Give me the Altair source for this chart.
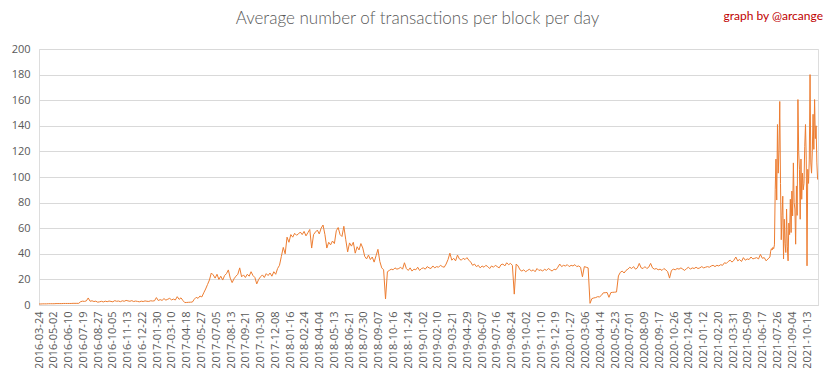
import altair as alt
import pandas as pd

# ---------------- data ----------------
MAIN_START = "2016-03-24"   # one value every 5 days
MAIN_STEP_DAYS = 5
main_values = [
    0.8, 0.8, 0.9, 0.9, 0.9, 1.0, 1.0, 1.0, 1.0, 1.1, 1.1, 1.1, 1.1, 1.2, 1.2, 1.2, 1.2, 1.2, 1.3, 1.3, 1.3, 1.3,
    2.6, 3.0, 2.8, 3.2, 5.5, 2.9, 3.3, 2.7, 3.0, 2.2, 2.5, 2.9, 2.4, 3.0, 2.6, 3.1, 2.8, 2.5, 3.4, 2.9, 3.1, 2.6,
    3.3, 2.9, 3.6, 3.2, 2.9, 3.4, 2.7, 3.1, 2.8, 2.5, 3.0, 2.7, 3.2, 2.9, 2.8, 3.3, 3.1,
    3.3, 5.8, 3.5, 4.2, 3.6, 5.0, 3.8, 4.5, 5.2, 4.0, 4.6, 3.9, 6.5, 4.4, 5.6, 3.5,
    1.9, 2.0, 2.1, 2.2, 2.3,
    4.5, 6.0, 5.2, 7.0, 6.3, 9.5, 12.5, 16.0, 19.5, 25.0,
    23.5, 21.0, 24.0, 20.0, 22.5, 19.5, 23.0, 24.5, 27.4, 21.0, 17.5, 20.5, 22.5, 24.0, 29.0, 22.0, 23.5, 21.5,
    24.0, 22.5, 26.0, 23.0, 21.5, 16.5, 20.0, 22.0, 23.5, 21.5, 24.5, 23.0, 25.0, 22.5, 26.0, 24.0, 28.5, 31.0,
    38.0, 45.0, 40.0, 53.0, 49.0, 55.0, 53.0, 56.0, 54.5, 55.5, 57.0, 55.0, 57.5, 54.0, 56.5, 59.0, 44.5, 55.0,
    57.0, 58.5, 55.5, 60.0, 62.5, 55.0, 44.5, 49.0, 47.0, 50.0, 48.0, 58.0, 60.5, 55.0, 53.5, 61.5, 51.0, 41.5,
    48.5, 46.0, 49.0, 40.5, 45.5, 43.0, 48.0, 44.5, 38.0, 36.0, 39.0, 35.5, 37.5, 33.5, 38.5, 43.5, 34.0, 29.0,
    27.5, 4.7, 26.0,
    27.0, 28.0, 27.5, 29.0, 28.0, 28.5, 29.5, 28.0, 33.0, 28.5, 27.0, 29.0, 26.5, 28.0, 27.5, 29.5, 27.0, 28.5,
    29.0, 28.0, 30.0, 29.0, 28.5, 30.5, 29.0, 30.0, 29.5, 31.0, 30.0, 29.5, 32.0, 35.5,
    40.5, 35.0, 36.5, 34.5, 39.0, 36.0, 35.0, 36.5, 35.5, 37.0, 35.0, 33.5, 31.0, 32.0,
    30.0, 31.0, 29.0, 30.5, 29.5, 31.0, 30.0, 28.5, 30.5, 29.5, 31.0, 30.0, 29.0, 31.5,
    32.0, 30.5, 33.0, 31.5, 32.5, 31.0, 8.5, 32.0, 30.5, 27.5,
    26.5, 27.5, 26.0, 27.0, 28.0, 26.5, 27.5, 26.0, 28.5, 27.0, 27.5, 26.5, 28.0, 27.0, 28.5, 27.5, 26.5, 28.0,
    27.5, 29.5,
    32.0, 30.0, 31.0, 30.5, 31.5, 30.0, 31.0, 30.5, 31.5, 30.0, 30.5, 29.5, 22.0, 30.0, 29.5, 29.0,
    1.3, 5.0, 5.5, 5.8, 6.5, 6.3, 7.5, 9.5, 9.6, 9.8, 6.0, 9.7, 9.9, 10.0, 10.2, 22.7, 25.5, 26.5, 25.0, 27.0,
    28.0, 29.5, 28.5, 30.0, 28.0, 29.0, 32.5, 29.0, 28.5, 30.0, 28.5, 29.5, 32.5, 29.0, 28.0,
    28.5, 27.5, 28.0, 27.0, 28.5, 27.5, 26.0, 21.0, 27.0,
    28.0, 27.5, 28.5, 28.0, 29.0, 28.0, 27.0, 28.5, 29.5, 28.0, 29.0, 28.5, 29.5, 28.5, 29.0, 30.0, 29.0, 29.5,
    30.0, 29.5, 30.5, 31.0, 30.0, 31.0, 30.5, 31.5, 31.0, 33.0,
    32.5, 34.0, 35.0, 33.5, 35.0, 37.5, 34.5, 35.5, 34.0, 37.0, 35.0, 36.0, 35.5, 37.5, 36.0, 36.5, 37.0, 36.0,
    39.5, 36.5, 37.0, 34.5, 36.0, 37.5,
]

END_START = "2021-07-08"    # one value every 2 days
END_STEP_DAYS = 2
end_values = [
    42, 44, 43, 45, 44, 47, 90, 114, 82, 141, 103, 121, 159, 95, 51, 70, 85, 36, 67, 48, 41, 75, 46, 34.5, 64,
    55, 82.6, 56.6, 89, 69.6, 111, 80, 75, 47.5, 93, 70, 160.5, 120, 106, 67, 114, 82.6, 103, 90, 95, 124, 141,
    114, 30.6, 106, 95, 114, 180, 111, 103, 120, 149, 121.6, 160.5, 130, 140, 111, 98,
]

TICK_LABELS = [
    "2016-03-24", "2016-05-02", "2016-06-10", "2016-07-19", "2016-08-27", "2016-10-05", "2016-11-13",
    "2016-12-22", "2017-01-30", "2017-03-10", "2017-04-18", "2017-05-27", "2017-07-05", "2017-08-13",
    "2017-09-21", "2017-10-30", "2017-12-08", "2018-01-16", "2018-02-24", "2018-04-04", "2018-05-13",
    "2018-06-21", "2018-07-30", "2018-09-07", "2018-10-16", "2018-11-24", "2019-01-02", "2019-02-10",
    "2019-03-21", "2019-04-29", "2019-06-07", "2019-07-16", "2019-08-24", "2019-10-02", "2019-11-10",
    "2019-12-19", "2020-01-27", "2020-03-06", "2020-04-14", "2020-05-23", "2020-07-01", "2020-08-09",
    "2020-09-17", "2020-10-26", "2020-12-04", "2021-01-12", "2021-02-20", "2021-03-31", "2021-05-09",
    "2021-06-17", "2021-07-26", "2021-09-04", "2021-10-13",
]
DOMAIN_START = "2016-03-24"
DOMAIN_END = "2021-11-10"
Y_TICKS = [0, 20, 40, 60, 80, 100, 120, 140, 160, 180, 200]

TITLE = "Average number of transactions per block per day"
CREDIT = "graph by @arcange"

# ---------------- build table ----------------
dates_main = pd.date_range(MAIN_START, periods=len(main_values), freq=f"{MAIN_STEP_DAYS}D")
dates_end = pd.date_range(END_START, periods=len(end_values), freq=f"{END_STEP_DAYS}D")
df = pd.DataFrame({
    "date": [d.strftime("%Y-%m-%d") for d in list(dates_main) + list(dates_end)],
    "value": main_values + end_values,
})


def ms(ts):
    return int(pd.Timestamp(ts).timestamp() * 1000)


tick_values = [ms(t) for t in TICK_LABELS]

W, H = 779, 256
GRAY = "#595959"

line = alt.Chart(df).mark_line(color="#ED7D31", strokeWidth=1).encode(
    x=alt.X(
        "date:T",
        scale=alt.Scale(type="utc", domain=[ms(DOMAIN_START), ms(DOMAIN_END)], nice=False),
        axis=alt.Axis(
            values=tick_values, format="%Y-%m-%d", labelAngle=270, labelOverlap=False,
            labelFlush=False, grid=False, ticks=False, domainColor="#d9d9d9",
            labelColor=GRAY, labelFontSize=11, labelFont="Open Sans", labelPadding=6, title=None,
        ),
    ),
    y=alt.Y(
        "value:Q",
        scale=alt.Scale(domain=[0, 200], nice=False),
        axis=alt.Axis(
            values=Y_TICKS, grid=True, gridColor="#d9d9d9", domain=False, ticks=False,
            labelColor=GRAY, labelFontSize=11, labelFont="Open Sans", labelPadding=9, title=None,
        ),
    ),
)

title = alt.Chart(pd.DataFrame({"t": [TITLE]})).mark_text(
    align="center", baseline="middle", color=GRAY, fontSize=17, font="Lato", fontWeight=300
).encode(text="t:N", x=alt.value(W / 2 - 11), y=alt.value(-30))

credit = alt.Chart(pd.DataFrame({"t": [CREDIT]})).mark_text(
    align="right", baseline="middle", color="#c00000", fontSize=12, font="Lato"
).encode(text="t:N", x=alt.value(W + 5), y=alt.value(-33))

chart = alt.layer(line, title, credit).properties(
    width=W,
    height=H,
    autosize=alt.AutoSizeParams(type="none"),
    padding={"left": 31, "top": 41, "right": 7, "bottom": 63},
).configure_view(stroke=None).configure(background="white")

chart.save("out.html", embed_options={"renderer": "svg", "actions": False})
